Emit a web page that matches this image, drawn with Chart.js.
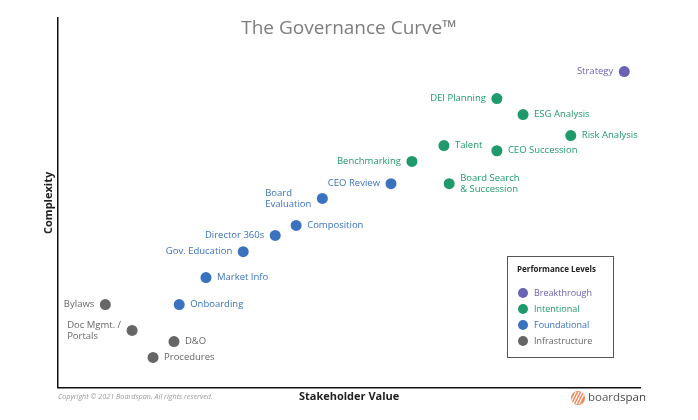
<!DOCTYPE html>
<html>
<head>
<meta charset="utf-8">
<script src="https://cdn.jsdelivr.net/npm/chart.js@4"></script>
<style>
  html, body { margin: 0; padding: 0; background: #fff; }
  #wrap { width: 698px; height: 420px; }
</style>
</head>
<body>
<div id="wrap"><canvas id="curve" width="698" height="420"></canvas></div>
<script>
// values (0-100 on both axes)
const levels = ["Breakthrough", "Intentional", "Foundational", "Infrastructure"];

const breakthroughNames = ["Strategy"];
const breakthroughValue = [97.3];
const breakthroughComplexity = [85.5];

const intentionalNames = ["DEI Planning", "ESG Analysis", "Risk Analysis", "Talent", "CEO Succession", "Benchmarking", "Board Search\n& Succession"];
const intentionalValue = [75.4, 79.9, 88.1, 66.3, 75.4, 60.8, 67.2];
const intentionalComplexity = [78.2, 73.9, 68.2, 65.5, 64.1, 61.2, 55.2];

const foundationalNames = ["CEO Review", "Board\nEvaluation", "Composition", "Director 360s", "Gov. Education", "Market Info", "Onboarding"];
const foundationalValue = [57.2, 45.4, 40.9, 37.3, 31.8, 25.4, 20.8];
const foundationalComplexity = [55.2, 51.2, 43.9, 41.2, 36.8, 29.8, 22.5];

const infrastructureNames = ["Bylaws", "Doc Mgmt. /\nPortals", "D&O", "Procedures"];
const infrastructureValue = [8.1, 12.7, 19.9, 16.3];
const infrastructureComplexity = [22.5, 15.5, 12.5, 8.2];

const colors = ["#6a62b4", "#1f9a6b", "#3a72c0", "#666666"];
// which labels sit left of their dot
const leftLabels = new Set(["Strategy", "DEI Planning", "Benchmarking", "CEO Review", "Board\nEvaluation",
  "Director 360s", "Gov. Education", "Bylaws", "Doc Mgmt. /\nPortals"]);

function toPoints(names, xs, ys) {
  return names.map((n, i) => ({ x: xs[i], y: ys[i], name: n }));
}

const seriesData = [
  toPoints(breakthroughNames, breakthroughValue, breakthroughComplexity),
  toPoints(intentionalNames, intentionalValue, intentionalComplexity),
  toPoints(foundationalNames, foundationalValue, foundationalComplexity),
  toPoints(infrastructureNames, infrastructureValue, infrastructureComplexity)
];

const FONT = "'Open Sans', sans-serif";

const pointLabels = {
  id: "pointLabels",
  afterDatasetsDraw(chart) {
    const ctx = chart.ctx;
    ctx.save();
    ctx.font = "9.5px " + FONT;
    ctx.textBaseline = "middle";
    chart.data.datasets.forEach((ds, di) => {
      const meta = chart.getDatasetMeta(di);
      ctx.fillStyle = colors[di];
      meta.data.forEach((el, i) => {
        const lines = ds.data[i].name.split("\n");
        const lh = 11;
        const y0 = el.y - (lines.length - 1) * lh / 2;
        const left = leftLabels.has(ds.data[i].name);
        const maxW = Math.max(...lines.map(l => ctx.measureText(l).width));
        ctx.textAlign = "left";
        lines.forEach((l, k) => {
          const x = left ? el.x - 11 - maxW : el.x + 11;
          ctx.fillText(l, x, y0 + k * lh);
        });
      });
    });
    ctx.restore();
  }
};

const decorations = {
  id: "decorations",
  afterDraw(chart) {
    const ctx = chart.ctx;
    ctx.save();
    // title
    ctx.fillStyle = "#7d7d7d";
    ctx.font = "500 19px " + FONT;
    ctx.textAlign = "center";
    ctx.textBaseline = "middle";
    ctx.fillText("The Governance Curve\u2122", 349, 29);

    // legend box
    ctx.strokeStyle = "#555";
    ctx.lineWidth = 1;
    ctx.strokeRect(507.5, 256.5, 106, 101);
    ctx.fillStyle = "#222";
    ctx.font = "bold 8px " + FONT;
    ctx.textAlign = "left";
    ctx.fillText("Performance Levels", 517, 270);
    ctx.font = "9px " + FONT;
    chart.data.datasets.forEach((ds, i) => {
      const y = 293 + i * 16;
      ctx.fillStyle = colors[i];
      ctx.beginPath();
      ctx.arc(523, y, 5, 0, Math.PI * 2);
      ctx.fill();
      ctx.fillText(ds.label, 534, y);
    });

    // copyright
    ctx.fillStyle = "#999";
    ctx.font = "italic 7.2px " + FONT;
    ctx.fillText("Copyright \u00a9 2021 Boardspan. All rights reserved.", 58, 397);

    // boardspan logo
    ctx.fillStyle = "#f08a5b";
    ctx.beginPath();
    ctx.arc(578, 398, 7, 0, Math.PI * 2);
    ctx.fill();
    ctx.strokeStyle = "#fff";
    ctx.lineWidth = 1.2;
    for (let k = -1; k <= 2; k++) {
      ctx.beginPath();
      ctx.moveTo(573 + k * 3, 404);
      ctx.lineTo(579 + k * 3, 392);
      ctx.stroke();
    }
    ctx.fillStyle = "#555";
    ctx.font = "11.5px " + FONT;
    ctx.fillText("board", 588, 398);
    const w = ctx.measureText("board").width;
    ctx.fillStyle = "#444";
    ctx.fillText("span", 588 + w, 398);
    ctx.restore();
  }
};

new Chart(document.getElementById("curve"), {
  type: "scatter",
  data: {
    datasets: levels.map((lv, i) => ({
      label: lv,
      data: seriesData[i],
      backgroundColor: colors[i],
      borderWidth: 0,
      pointRadius: 5.5,
      pointHoverRadius: 5.5
    }))
  },
  options: {
    responsive: false,
    animation: false,
    layout: { padding: { left: 37, right: 58, top: 18, bottom: 15 } },
    plugins: {
      legend: { display: false },
      tooltip: { enabled: false }
    },
    scales: {
      x: {
        min: 0, max: 100,
        grid: { display: false, drawTicks: false },
        border: { display: true, color: "#111", width: 1.5 },
        ticks: { display: false },
        title: { display: true, text: "Stakeholder Value", color: "#222",
          font: { family: FONT, size: 11, weight: "bold" }, padding: { top: 2, bottom: 2 } }
      },
      y: {
        min: 0, max: 100,
        grid: { display: false, drawTicks: false },
        border: { display: true, color: "#111", width: 1.5 },
        ticks: { display: false },
        title: { display: true, text: "Complexity", color: "#222",
          font: { family: FONT, size: 11, weight: "bold" }, padding: { top: 5, bottom: 3 } }
      }
    }
  },
  plugins: [pointLabels, decorations]
});
</script>
</body>
</html>
